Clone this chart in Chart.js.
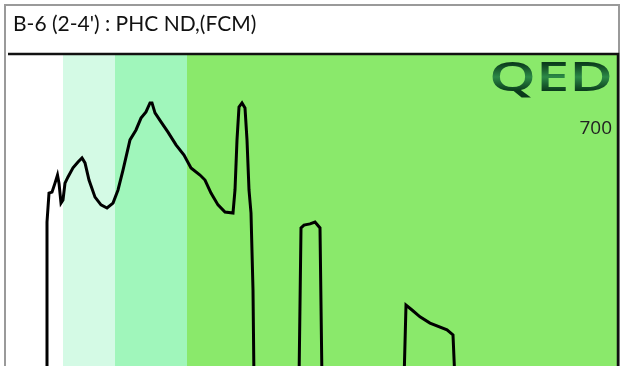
<!DOCTYPE html>
<html>
<head>
<meta charset="utf-8">
<script src="https://cdn.jsdelivr.net/npm/chart.js@4.4.0/dist/chart.umd.min.js"></script>
<style>
  html, body { margin: 0; padding: 0; background: #fff; }
  canvas { display: block; }
</style>
</head>
<body>
<canvas id="grafico" width="620" height="366"></canvas>
<script>
// titulo e rotulos
const titulo = "B-6 (2-4') : PHC ND,(FCM)";
const escalaTexto = '700';
const logoTexto = 'QED';

// faixas de fundo (tempo de retencao, unidades arbitrarias)
const faixaInicio = [0, 5.5, 10.7, 17.9];
const faixaFim = [5.5, 10.7, 17.9, 61];
const faixaCores = ['#ffffff', '#d4fae5', '#a0f6bb', '#8ae96b'];

// cromatograma (x = tempo, y = % da escala)
const tempos = [3.9, 3.9, 4.1, 4.4, 4.7, 4.95, 5.1, 5.3, 5.5, 5.7, 6.0, 6.5, 7.0, 7.4, 7.7, 8.1, 8.7, 9.3, 9.9,
    10.5, 11.0, 11.5, 12.2, 12.8, 13.3, 13.8, 14.2, 14.4, 14.7, 15.3, 16.0, 16.8, 17.6, 18.3, 19.2, 19.7, 20.3,
    21.0, 21.7, 22.5, 22.7, 22.9, 23.1, 23.4, 23.7, 23.9, 24.1, 24.3, 24.5, 24.6,
    29.1, 29.3, 29.6, 30.2, 30.7, 31.2, 31.4,
    39.6, 39.8, 40.4, 41.2, 42.2, 43.9, 44.5, 44.7, 61];
const sinal = [-5, 46.3, 55.6, 55.9, 58.8, 61.4, 58.8, 52.4, 53.4, 58.8, 60.8, 63.7, 65.6, 66.9, 65.3, 59.8, 54.3, 51.8, 50.8,
    52.4, 56.6, 63.0, 72.7, 75.9, 79.7, 81.7, 84.6, 84.6, 81.4, 78.5, 75.2, 71.1, 67.8, 63.7, 61.4, 59.8, 55.6,
    51.8, 49.5, 49.2, 56.6, 72.7, 83.3, 84.6, 83.0, 72.7, 56.6, 49.2, 24.4, -5,
    -5, 44.4, 45.3, 45.7, 46.3, 44.4, -5,
    -5, 19.6, 18.0, 15.8, 13.8, 11.6, 10.0, -5, -5];

const pontos = tempos.map((t, i) => ({ x: t, y: sinal[i] }));

const fundoPlugin = {
    id: 'fundo',
    beforeDatasetsDraw(chart) {
        const { ctx, chartArea, scales } = chart;
        ctx.save();
        for (let i = 0; i < faixaInicio.length; i++) {
            const x1 = scales.x.getPixelForValue(faixaInicio[i]);
            const x2 = scales.x.getPixelForValue(faixaFim[i]);
            ctx.fillStyle = faixaCores[i];
            ctx.fillRect(x1, chartArea.top, x2 - x1, chartArea.bottom - chartArea.top);
        }
        ctx.restore();
    },
    afterDraw(chart) {
        const { ctx, chartArea } = chart;
        ctx.save();
        // moldura externa
        ctx.strokeStyle = '#9a9a9a';
        ctx.lineWidth = 2;
        ctx.strokeRect(5, 5, 614, 370);
        // borda do grafico
        ctx.strokeStyle = '#111';
        ctx.lineWidth = 2.5;
        ctx.beginPath();
        ctx.moveTo(chartArea.left, chartArea.top - 1);
        ctx.lineTo(chartArea.right, chartArea.top - 1);
        ctx.lineTo(chartArea.right, chartArea.bottom + 2);
        ctx.stroke();

        // titulo
        ctx.fillStyle = '#111';
        ctx.font = '21px Lato';
        ctx.textBaseline = 'alphabetic';
        ctx.textAlign = 'left';
        ctx.fillText(titulo, 13, 31);

        // escala
        ctx.fillStyle = '#222';
        ctx.font = '19px "Open Sans"';
        ctx.textAlign = 'right';
        ctx.fillText(escalaTexto, 612, 134);

        // logo
        ctx.font = '600 39px "Open Sans"';
        ctx.textAlign = 'left';
        const w = ctx.measureText(logoTexto).width;
        ctx.translate(489, 91);
        ctx.scale(124 / w, 1);
        const grad = ctx.createLinearGradient(0, -28, 0, 0);
        grad.addColorStop(0, '#0a3a1b');
        grad.addColorStop(0.5, '#2c8a47');
        grad.addColorStop(1, '#0a3a1b');
        ctx.fillStyle = grad;
        ctx.fillText(logoTexto, 0, 0);
        ctx.restore();
    }
};

new Chart(document.getElementById('grafico'), {
    type: 'line',
    data: {
        datasets: [{
            data: pontos,
            borderColor: '#000',
            borderWidth: 3,
            pointRadius: 0,
            tension: 0,
            fill: false
        }]
    },
    options: {
        responsive: false,
        animation: false,
        layout: { padding: { left: 8, top: 55, right: 2, bottom: 0 } },
        plugins: {
            legend: { display: false },
            tooltip: { enabled: false }
        },
        scales: {
            x: { type: 'linear', min: 0, max: 61, display: false },
            y: { min: 0, max: 100, display: false }
        }
    },
    plugins: [fundoPlugin]
});
</script>
</body>
</html>
